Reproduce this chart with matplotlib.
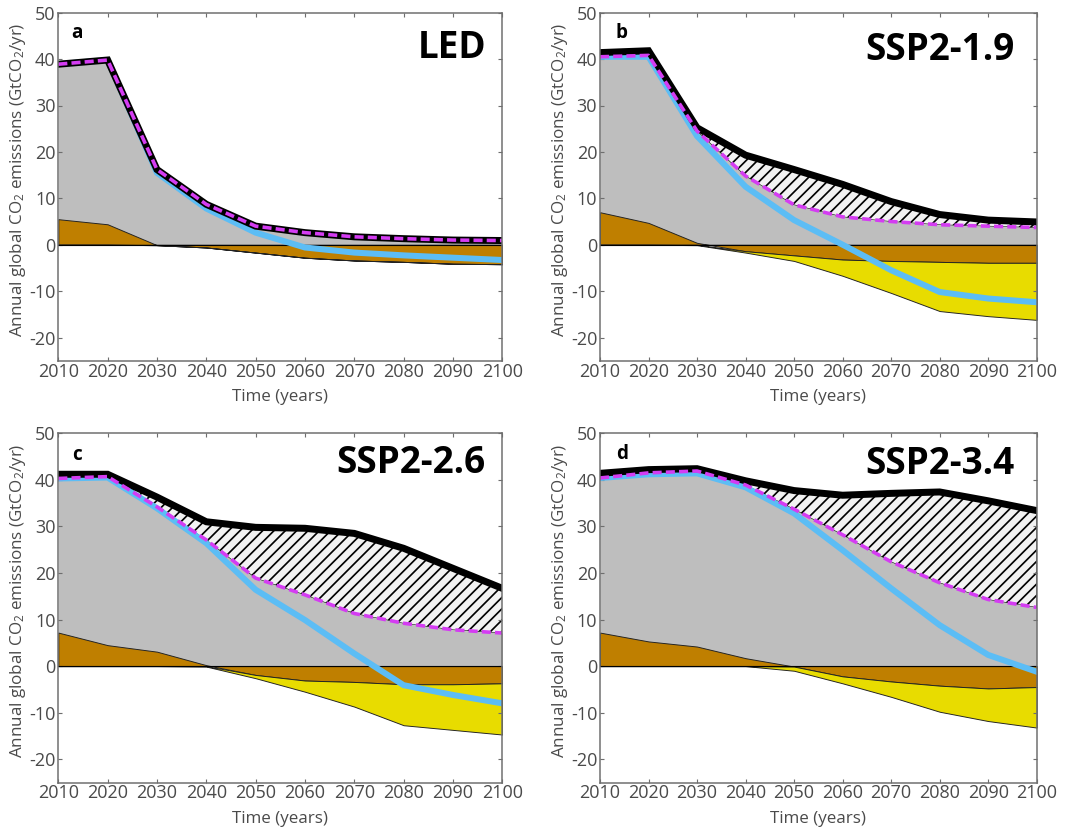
import matplotlib
matplotlib.use('Agg')
import matplotlib.pyplot as plt
import numpy as np

plt.rcParams['font.family'] = ['Open Sans', 'DejaVu Sans']
plt.rcParams['mathtext.fontset'] = 'custom'
plt.rcParams['mathtext.rm'] = 'Open Sans'
plt.rcParams['mathtext.default'] = 'regular'
plt.rcParams['axes.unicode_minus'] = False
plt.rcParams['hatch.linewidth'] = 0.9
plt.rcParams['lines.scale_dashes'] = False

years = [2010, 2020, 2030, 2040, 2050, 2060, 2070, 2080, 2090, 2100]

# a: LED
top_a = [38.9, 39.8, 16.2, 8.7, 4.0, 2.6, 1.7, 1.3, 1.0, 0.9]
gross_a = [38.9, 39.8, 16.2, 8.7, 4.0, 2.6, 1.7, 1.3, 1.0, 0.9]
net_a = [38.9, 39.8, 15.5, 7.8, 2.6, -0.6, -1.7, -2.3, -2.8, -3.3]
afolu_a = [5.5, 4.4, -0.1, -0.6, -1.7, -2.8, -3.4, -3.7, -4.1, -4.2]
low_a = [0, 0, -0.1, -0.6, -1.7, -2.8, -3.4, -3.7, -4.1, -4.2]

# b: SSP2-1.9
top_b = [41.4, 41.8, 25.2, 19.3, 16.2, 13.0, 9.3, 6.5, 5.3, 4.9]
gross_b = [40.5, 40.8, 24.5, 14.8, 8.6, 6.0, 5.0, 4.3, 4.0, 3.7]
net_b = [40.5, 40.5, 23.4, 12.5, 5.3, 0.0, -5.5, -10.2, -11.6, -12.4]
afolu_b = [7.0, 4.7, 0.4, -1.4, -2.3, -3.2, -3.5, -3.7, -3.9, -3.9]
low_b = [0, 0, -0.1, -1.7, -3.5, -6.7, -10.4, -14.3, -15.4, -16.2]

# c: SSP2-2.6
top_c = [41.2, 41.2, 36.3, 31.0, 29.8, 29.6, 28.5, 25.3, 21.0, 16.7]
gross_c = [40.3, 40.7, 34.2, 27.1, 18.9, 15.3, 11.3, 9.2, 7.8, 7.1]
net_c = [40.3, 40.5, 33.9, 26.4, 16.4, 9.9, 2.7, -4.1, -6.2, -8.0]
afolu_c = [7.2, 4.5, 3.1, 0.2, -1.9, -3.1, -3.4, -3.9, -3.9, -3.7]
low_c = [0, 0, 0, -0.1, -2.6, -5.5, -8.7, -12.7, -13.7, -14.7]

# d: SSP2-3.4
top_d = [41.4, 42.2, 42.4, 39.8, 37.7, 36.7, 37.1, 37.4, 35.5, 33.4]
gross_d = [40.4, 41.5, 41.9, 38.9, 33.7, 28.2, 22.4, 17.9, 14.3, 12.6]
net_d = [40.4, 41.2, 41.4, 38.4, 32.8, 24.9, 16.7, 8.8, 2.4, -1.2]
afolu_d = [7.2, 5.3, 4.2, 1.7, -0.1, -2.2, -3.3, -4.2, -4.8, -4.5]
low_d = [0, 0, 0, 0, -1.0, -3.7, -6.6, -9.8, -11.8, -13.2]

letters = ['a', 'b', 'c', 'd']
titles = ['LED', 'SSP2-1.9', 'SSP2-2.6', 'SSP2-3.4']

W, H = 1088, 834
# axes boxes in pixels: left, top, right, bottom
boxes = [(58.3, 12.7, 502.3, 360.7), (600, 12.7, 1036.7, 360.7),
         (58.3, 433.3, 502.3, 782.5), (600, 433.3, 1036.7, 782.5)]
letter_pos = [(0.042, 0.943), (0.05, 0.943), (0.043, 0.938), (0.05, 0.94)]
title_pos = [(0.965, 0.898), (0.95, 0.893), (0.961, 0.914), (0.95, 0.911)]

grey = '#bebebe'
brown = '#bf7f00'
yellow = '#e8dc00'
blue = '#5cbdf5'
magenta = '#d43cf2'
axcol = '#6e6e6e'
txtcol = '#4a4a4a'

series = [(top_a, gross_a, net_a, afolu_a, low_a),
          (top_b, gross_b, net_b, afolu_b, low_b),
          (top_c, gross_c, net_c, afolu_c, low_c),
          (top_d, gross_d, net_d, afolu_d, low_d)]

fig = plt.figure(figsize=(W / 136, H / 136), dpi=136)

for i in range(4):
    l, t, r, b = boxes[i]
    ax = fig.add_axes([l / W, 1 - b / H, (r - l) / W, (b - t) / H])
    top, gross, net, afolu, low = [np.array(s, dtype=float) for s in series[i]]
    x = np.array(years)
    neg = np.minimum(afolu, 0)

    ax.fill_between(x, 0, gross, color=grey, lw=0)
    ax.fill_between(x, gross, top, facecolor='#f2f2f2', edgecolor='k',
                    hatch='////', lw=0.3)
    ax.fill_between(x, 0, afolu, facecolor=brown, edgecolor='#222222', lw=0.5)
    ax.fill_between(x, neg, np.minimum(low, neg), facecolor=yellow,
                    edgecolor='#222222', lw=0.5)
    ax.axhline(0, color='k', lw=0.6)
    ax.plot(x, net, color=blue, lw=3.2, solid_joinstyle='miter')
    ax.plot(x, top, color='k', lw=3.7, solid_joinstyle='miter')
    ax.plot(x, gross, color=magenta, lw=1.9, dashes=(4.8, 2.2),
            dash_capstyle='butt')

    ax.set_xlim(2010, 2100)
    ax.set_ylim(-25, 50)
    ax.set_xticks(years)
    ax.set_yticks(np.arange(-20, 51, 10))
    ax.tick_params(direction='in', top=True, right=True, length=2.2,
                   width=0.6, color=axcol, labelcolor=txtcol, labelsize=9.5)
    ax.tick_params(axis='x', pad=1)
    ax.tick_params(axis='y', pad=1.5)
    for sp in ax.spines.values():
        sp.set_color(axcol)
        sp.set_linewidth(0.8)

    hpx = b - t
    wpx = r - l
    ax.set_xlabel('Time (years)', fontsize=9, color=txtcol, va='center')
    ax.xaxis.set_label_coords(0.5, -36.5 / hpx)
    ax.set_ylabel('Annual global CO$_2$ emissions (GtCO$_2$/yr)', fontsize=9,
                  color=txtcol, va='center')
    ax.yaxis.set_label_coords(-40 / wpx, 0.52)

    ax.text(letter_pos[i][0], letter_pos[i][1], letters[i], transform=ax.transAxes,
            fontsize=10, fontweight='bold', ha='center', va='center')
    ax.text(title_pos[i][0], title_pos[i][1], titles[i], transform=ax.transAxes,
            fontsize=19.5, fontweight='bold', ha='right', va='center')

fig.savefig('out.png', dpi=136)
